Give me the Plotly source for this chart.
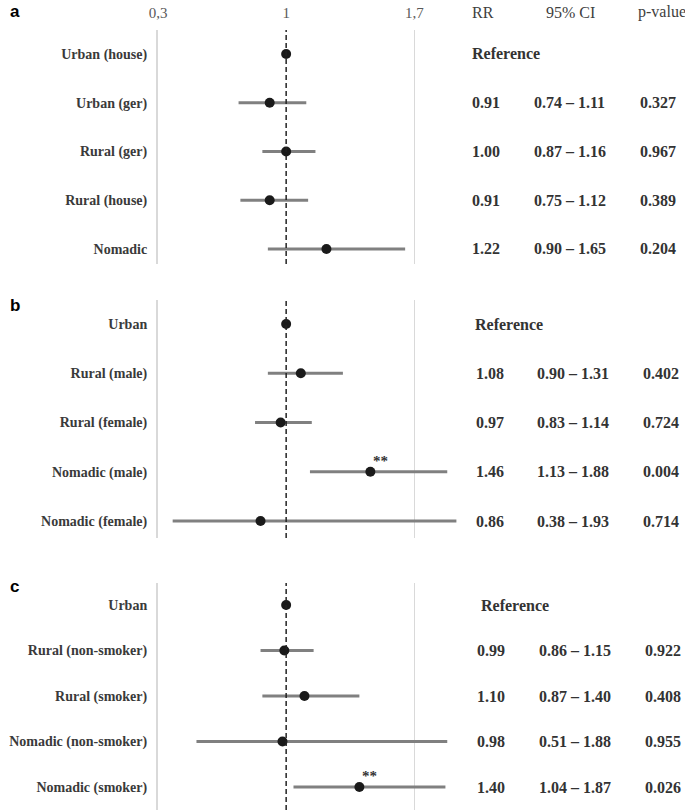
import plotly.graph_objects as go

# ---------------- data ----------------
labels_a = ["Urban (house)", "Urban (ger)", "Rural (ger)", "Rural (house)", "Nomadic"]
rr_a = [1.00, 0.91, 1.00, 0.91, 1.22]
lo_a = [1.00, 0.74, 0.87, 0.75, 0.90]
hi_a = [1.00, 1.11, 1.16, 1.12, 1.65]
rrtxt_a = ["Reference", "0.91", "1.00", "0.91", "1.22"]
ci_a = ["", "0.74 – 1.11", "0.87 – 1.16", "0.75 – 1.12", "0.90 – 1.65"]
p_a = ["", "0.327", "0.967", "0.389", "0.204"]
sig_a = ["", "", "", "", ""]

labels_b = ["Urban", "Rural (male)", "Rural (female)", "Nomadic (male)", "Nomadic (female)"]
rr_b = [1.00, 1.08, 0.97, 1.46, 0.86]
lo_b = [1.00, 0.90, 0.83, 1.13, 0.38]
hi_b = [1.00, 1.31, 1.14, 1.88, 1.93]
rrtxt_b = ["Reference", "1.08", "0.97", "1.46", "0.86"]
ci_b = ["", "0.90 – 1.31", "0.83 – 1.14", "1.13 – 1.88", "0.38 – 1.93"]
p_b = ["", "0.402", "0.724", "0.004", "0.714"]
sig_b = ["", "", "", "**", ""]

labels_c = ["Urban", "Rural (non-smoker)", "Rural (smoker)", "Nomadic (non-smoker)", "Nomadic (smoker)"]
rr_c = [1.00, 0.99, 1.10, 0.98, 1.40]
lo_c = [1.00, 0.86, 0.87, 0.51, 1.04]
hi_c = [1.00, 1.15, 1.40, 1.88, 1.87]
rrtxt_c = ["Reference", "0.99", "1.10", "0.98", "1.40"]
ci_c = ["", "0.86 – 1.15", "0.87 – 1.40", "0.51 – 1.88", "1.04 – 1.87"]
p_c = ["", "0.922", "0.408", "0.955", "0.026"]
sig_c = ["", "", "", "", "**"]

header_cols = ["RR", "95% CI", "p-value"]
tick_vals = [0.3, 1.0, 1.7]
tick_text = ["0,3", "1", "1,7"]
panel_letters = ["a", "b", "c"]

# ---------------- layout constants ----------------
W, H = 685, 810
X_RANGE = [0.3, 2.0]
x_dom = [151 / W, (151 + 1.7 * 185.5) / W]

panels = [
    dict(labels=labels_a, rr=rr_a, lo=lo_a, hi=hi_a, rrt=rrtxt_a, ci=ci_a, p=p_a, sig=sig_a,
         top=30, bot=264, r0=54, step=48.75, cols=[467, 530, 637], ref_x=467, letter_y=11),
    dict(labels=labels_b, rr=rr_b, lo=lo_b, hi=hi_b, rrt=rrtxt_b, ci=ci_b, p=p_b, sig=sig_b,
         top=300, bot=538, r0=324, step=49.25, cols=[471, 533, 640], ref_x=470, letter_y=305),
    dict(labels=labels_c, rr=rr_c, lo=lo_c, hi=hi_c, rrt=rrtxt_c, ci=ci_c, p=p_c, sig=sig_c,
         top=583, bot=810, r0=605, step=45.5, cols=[472, 535, 642], ref_x=476, letter_y=586),
]

LABEL_FONT = dict(family="Liberation Serif", size=14, color="#3a3a3a")
VAL_FONT = dict(family="Liberation Serif", size=16, color="#333333")
GRID = "#d9d9d9"

fig = go.Figure()
annotations = []
shapes = []

for i, pn in enumerate(panels):
    k = "" if i == 0 else str(i + 1)
    xa, ya = "x" + k, "y" + k
    ys = list(range(len(pn["labels"])))
    fig.add_trace(go.Scatter(
        x=pn["rr"], y=ys, xaxis=xa, yaxis=ya, mode="markers",
        marker=dict(size=10, color="#1a1a1a"),
        error_x=dict(type="data", symmetric=False,
                     array=[h - r for h, r in zip(pn["hi"], pn["rr"])],
                     arrayminus=[r - l for r, l in zip(pn["rr"], pn["lo"])],
                     color="#808080", thickness=3, width=0),
        showlegend=False, hoverinfo="skip", cliponaxis=False,
    ))
    y_lo = (pn["top"] - pn["r0"]) / pn["step"]
    y_hi = (pn["bot"] - pn["r0"]) / pn["step"]
    dom = [1 - pn["bot"] / H, 1 - pn["top"] / H]
    fig.update_layout(**{
        "xaxis" + k: dict(domain=x_dom, range=X_RANGE, anchor=ya, tickvals=[1.7],
                          showticklabels=False, showgrid=True, gridcolor=GRID, gridwidth=1,
                          zeroline=False, showline=False, ticks=""),
        "yaxis" + k: dict(domain=dom, range=[y_hi, y_lo], anchor=xa, tickvals=ys,
                          ticktext=["<b>%s</b>" % s for s in pn["labels"]],
                          tickfont=LABEL_FONT, showgrid=False, zeroline=False,
                          showline=True, linecolor=GRID, linewidth=2,
                          ticks="outside", ticklen=6, tickcolor="rgba(0,0,0,0)"),
    })
    # reference line at RR = 1
    shapes.append(dict(type="line", xref=xa, yref=ya + " domain", x0=1, x1=1, y0=0, y1=1,
                       line=dict(color="#222222", width=1.5, dash="5px,3px"), layer="above"))
    # value columns
    for j in ys:
        if pn["ci"][j] == "":
            annotations.append(dict(xref="paper", yref=ya, x=pn["ref_x"] / W, y=j,
                                    text="<b>%s</b>" % pn["rrt"][j], showarrow=False,
                                    xanchor="left", yanchor="middle", font=VAL_FONT))
        else:
            for cx, t in zip(pn["cols"], [pn["rrt"][j], pn["ci"][j], pn["p"][j]]):
                annotations.append(dict(xref="paper", yref=ya, x=cx / W, y=j,
                                        text="<b>%s</b>" % t, showarrow=False,
                                        xanchor="left", yanchor="middle", font=VAL_FONT))
        if pn["sig"][j]:
            annotations.append(dict(xref=xa, yref=ya, x=pn["rr"][j], y=j,
                                    text="<b>%s</b>" % pn["sig"][j],
                                    showarrow=False, xshift=10, yshift=11,
                                    font=dict(family="Liberation Serif", size=15, color="#333333")))
    # panel letter
    annotations.append(dict(xref="paper", yref="paper", x=0, y=1 - pn["letter_y"] / H,
                            text="<b>%s</b>" % panel_letters[i], showarrow=False,
                            xanchor="left", yanchor="middle", borderpad=0,
                            font=dict(family="Liberation Sans", size=17, color="#000000")))

# top scale labels (panel a) on an overlaying axis
fig.add_trace(go.Scatter(x=[1], y=[0], xaxis="x4", yaxis="y", mode="markers",
                         marker=dict(opacity=0), showlegend=False, hoverinfo="skip"))
fig.update_layout(xaxis4=dict(overlaying="x", side="top", anchor="free",
                              position=1 - 21 / H, range=X_RANGE, tickvals=tick_vals,
                              ticktext=tick_text, showgrid=False, zeroline=False,
                              showline=False, ticks="",
                              tickfont=dict(family="Liberation Serif", size=15, color="#595959")))

# column headers
for cx, t in zip([467, 542, 635], header_cols):
    annotations.append(dict(xref="paper", yref="paper", x=cx / W, y=1 - 12 / H, text=t,
                            showarrow=False, xanchor="left", yanchor="middle",
                            font=dict(family="Liberation Serif", size=16, color="#404040")))

fig.update_layout(width=W, height=H, margin=dict(l=0, r=0, t=0, b=0),
                  paper_bgcolor="white", plot_bgcolor="white",
                  annotations=annotations, shapes=shapes, showlegend=False)

fig.write_html("out.html",
               config={"displayModeBar": False},
               post_script="document.body.style.margin='0';"
                           "document.documentElement.style.overflow='hidden';"
                           "document.body.style.overflow='hidden';")
